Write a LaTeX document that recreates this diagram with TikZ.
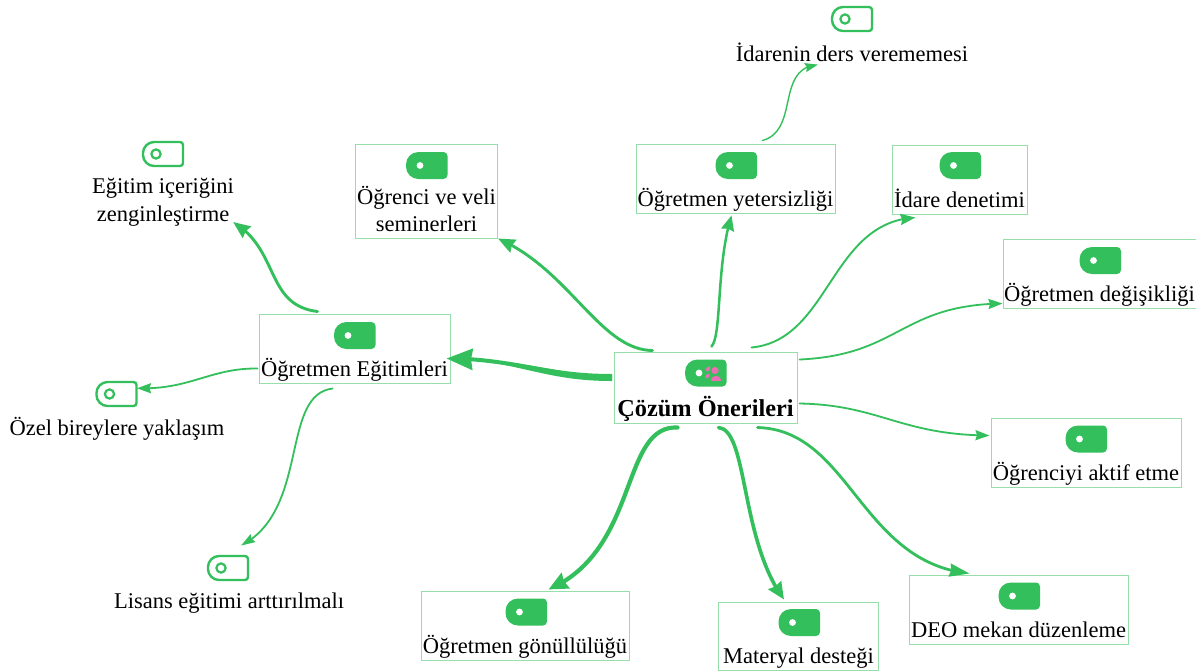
\documentclass[tikz,border=0pt]{standalone}
\usepackage{fontspec}
\setmainfont{Liberation Serif}
\usetikzlibrary{arrows.meta,bending}
\definecolor{gr}{HTML}{33BF5B}
\definecolor{grb}{HTML}{96DFAB}
\definecolor{pk}{HTML}{EE6DB4}
\newcommand{\bt}[3]{\parbox[c][#2pt][b]{#1pt}{\centering #3\strut\par\vspace{-1.75pt}}}
\tikzset{
  x=1pt,y=-1pt,
  boxn/.style={draw=grb,line width=1pt,fill=white,inner sep=0pt,font=\fontsize{22.5}{27.5}\selectfont},
  txt/.style={inner sep=0pt,align=center,font=\fontsize{22.5}{27.5}\selectfont,text=black},
  conn/.style={draw=gr,line cap=round},
  ah/.style n args={2}{-{Stealth[length=#1pt,width=#2pt,inset=1.5pt,flex]}},
  pics/ftag/.style={code={
    \fill[gr] (-8,-13.5) -- (17,-13.5) .. controls (19.2,-13.5) and (21,-11.7) .. (21,-9.5) -- (21,9.5) .. controls (21,11.7) and (19.2,13.5) .. (17,13.5) -- (-8,13.5) .. controls (-15,13.5) and (-20.5,8) .. (-20.5,1) -- (-20.5,-1) .. controls (-20.5,-8) and (-15,-13.5) .. (-8,-13.5) -- cycle;
    \fill[white] (-6.5,0) circle[radius=3.4];
  }},
  pics/otag/.style={code={
    \draw[gr,line width=2.4pt] (-9,-12) -- (17,-12) .. controls (18.7,-12) and (20,-10.7) .. (20,-9) -- (20,9) .. controls (20,10.7) and (18.7,12) .. (17,12) -- (-9,12) .. controls (-15,12) and (-20,7) .. (-20,1) -- (-20,-1) .. controls (-20,-7) and (-15,-12) .. (-9,-12) -- cycle;
    \draw[gr,line width=2.2pt] (-7,0) circle[radius=4.6];
  }}
}
\begin{document}
\begin{tikzpicture}
\useasboundingbox (0,0) rectangle (1196,670);
% boxes
\node[boxn] (root) at (705.5,387.5) {\bt{183}{71}{\textbf{\fontsize{24.3}{27.5}\selectfont Çözüm Önerileri}}};
\node[boxn] (veli) at (426.5,191) {\bt{142}{94}{Öğrenci ve veli\\seminerleri}};
\node[boxn] (yet) at (735.5,178.5) {\bt{199}{69}{Öğretmen yetersizliği}};
\node[boxn] (ida) at (959.5,179.5) {\bt{135}{69}{İdare denetimi}};
\node[boxn] (deg) at (1099.5,273.5) {\bt{193}{69}{Öğretmen değişikliği}};
\node[boxn] (akt) at (1086,452.5) {\bt{190}{69}{Öğrenciyi aktif etme}};
\node[boxn] (deo) at (1018.5,609.5) {\bt{219}{69}{DEO mekan düzenleme}};
\node[boxn] (mat) at (798.5,636) {\bt{160}{68}{Materyal desteği}};
\node[boxn] (gon) at (525,625.5) {\bt{208}{69}{Öğretmen gönüllülüğü}};
\node[boxn] (egt) at (354.5,348.5) {\bt{191}{69}{Öğretmen Eğitimleri}};
% free labels
\node[txt] (tidr) at (852,52.5) {İdarenin ders verememesi};
\node[txt] (tzen) at (163,202) {Eğitim içeriğini\\zenginleştirme};
\node[txt] (tozl) at (117,429) {Özel bireylere yaklaşım};
\node[txt] (tlis) at (229,603.5) {Lisans eğitimi arttırılmalı};
% icons
\pic at (426.5,165.5) {ftag};
\pic at (736,165.5) {ftag};
\pic at (960,165.5) {ftag};
\pic at (1100,260.5) {ftag};
\pic at (1086,439) {ftag};
\pic at (1019,596) {ftag};
\pic at (799,622.5) {ftag};
\pic at (526,612) {ftag};
\pic at (354.5,335.5) {ftag};
\pic at (705.5,373) {ftag};
\fill[pk] (715,370.5) circle[radius=3.6];
\fill[pk] (710.5,381) .. controls (710.5,373.5) and (720.5,373.5) .. (720.5,381) -- cycle;
\fill[pk,rotate around={-35:(708,369)}] (708,369) ellipse[x radius=1.7,y radius=2.8];
\fill[pk,rotate around={-40:(707.5,376)}] (707.5,376) ellipse[x radius=1.7,y radius=2.8];
\pic at (852,19) {otag};
\pic at (163,154) {otag};
\pic at (116.5,394) {otag};
\pic at (228,568) {otag};
% connectors
\draw[conn,line width=2.9pt,ah={17}{14}] ([shift={(39,-1)}]root.north west) .. controls (600,350) and (570,270) .. (veli.south east);
\draw[conn,line width=2.5pt,ah={15}{13}] ([shift={(98,-5)}]root.north west) .. controls (722,335) and (716,265) .. ([shift={(96,2)}]yet.south west);
\draw[conn,line width=1.9pt,ah={15}{11}] ([shift={(138,-4)}]root.north west) .. controls (830,340) and (830,222) .. ([shift={(24,3)}]ida.south west);
\draw[conn,line width=1.8pt,ah={14}{10}] ([shift={(186,8)}]root.north west) .. controls (900,355) and (900,305) .. ([shift={(0,-5)}]deg.south west);
\draw[conn,line width=1.8pt,ah={14}{10}] ([shift={(186,52)}]root.north west) .. controls (880,405) and (900,435) .. ([shift={(-1,18)}]akt.north west);
\draw[conn,line width=2.8pt,ah={20}{13}] ([shift={(144,4)}]root.south west) .. controls (850,430) and (860,562) .. ([shift={(61,-1)}]deo.north west);
\draw[conn,line width=3.6pt,ah={17}{15}] ([shift={(105,4)}]root.south west) .. controls (748,430) and (740,540) .. ([shift={(66,-2)}]mat.north west);
\draw[conn,line width=4.2pt,ah={19}{17}] ([shift={(64,4)}]root.south west) .. controls (620,425) and (640,550) .. ([shift={(128,-1)}]gon.north west);
\draw[conn,line cap=butt,line width=4pt,ah={26}{21}] ([shift={(-1.5,-10)}]root.west) .. controls (560,378) and (510,358) .. ([shift={(-4,10)}]egt.east);
\fill[gr] ([shift={(-1.5,-13.5)}]root.west) .. controls (565,374) and (540,366) .. (500,361) -- (500,364) .. controls (540,372) and (565,381) .. ([shift={(-1.5,-6.5)}]root.west) -- cycle;
\draw[conn,line width=2.9pt,ah={17}{14}] ([shift={(59,-2)}]egt.north west) .. controls (265,305) and (280,250) .. ([shift={(-1,-4)}]tzen.south east);
\draw[conn,line width=1.8pt,ah={14}{10}] ([shift={(-1,20)}]egt.west) .. controls (210,368) and (190,390) .. ([shift={(20,-29)}]tozl.north);
\draw[conn,line width=1.8pt,ah={14}{9}] ([shift={(74,5)}]egt.south west) .. controls (280,395) and (310,510) .. ([shift={(12,-47.5)}]tlis.north);
\draw[conn,line width=1.4pt,ah={13}{9}] ([shift={(127,-3)}]yet.north west) .. controls (800,130) and (775,68) .. ([shift={(-34,2.5)}]tidr.south);
\end{tikzpicture}
\end{document}
